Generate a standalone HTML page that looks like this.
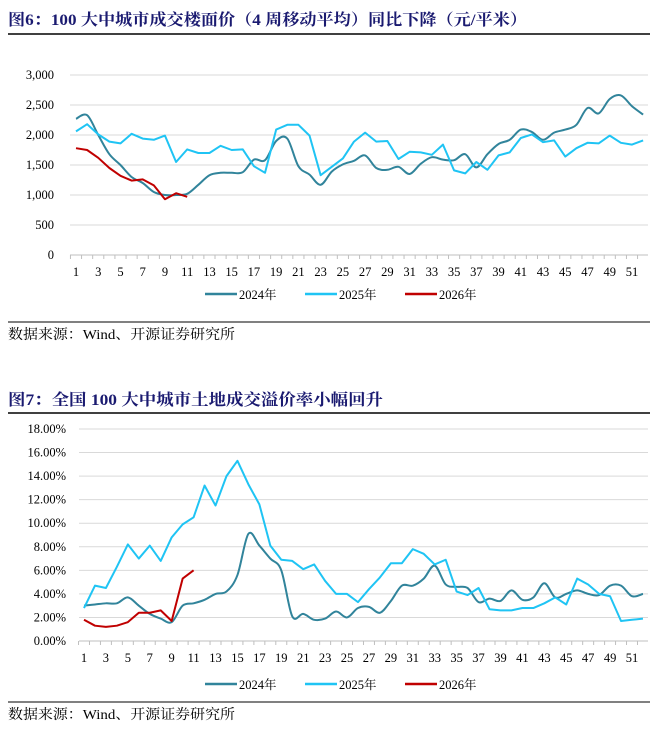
<!DOCTYPE html>
<html><head><meta charset="utf-8"><style>
body{margin:0;background:#fff}
svg{display:block;font-family:"Liberation Serif","Noto Serif CJK SC",serif}
.t{font-weight:bold;fill:#1a1a70;font-size:16px}
.s{font-size:14px;fill:#000}
.ax{font-size:12.5px;fill:#000}
</style></head><body>
<svg id="svg" width="666" height="739" viewBox="0 0 666 739">
<text class="t" x="8" y="25" textLength="519" lengthAdjust="spacingAndGlyphs">图6：100 大中城市成交楼面价（4 周移动平均）同比下降（元/平米）</text>
<line x1="8" y1="34" x2="650" y2="34" stroke="#000" stroke-width="1.5"/>
<g id="c1"></g>
<line x1="8" y1="322" x2="650" y2="322" stroke="#000" stroke-width="1"/>
<text class="s" x="8" y="339" textLength="227" lengthAdjust="spacingAndGlyphs">数据来源：Wind、开源证券研究所</text>
<text class="t" x="8" y="405" textLength="375" lengthAdjust="spacingAndGlyphs">图7：全国 100 大中城市土地成交溢价率小幅回升</text>
<line x1="8" y1="413" x2="650" y2="413" stroke="#000" stroke-width="1.5"/>
<g id="c2"></g>
<line x1="8" y1="702" x2="650" y2="702" stroke="#000" stroke-width="1"/>
<text class="s" x="8" y="719" textLength="227" lengthAdjust="spacingAndGlyphs">数据来源：Wind、开源证券研究所</text>
</svg>
<script>
const weeks = Array.from({length:52},(_,i)=>i+1);
const price2024 = [2270,2330,2000,1680,1500,1300,1200,1050,1000,1000,1020,1170,1330,1370,1370,1380,1590,1580,1900,1940,1480,1340,1170,1390,1510,1570,1660,1450,1420,1470,1350,1520,1630,1590,1580,1680,1460,1680,1850,1920,2090,2050,1920,2040,2090,2170,2450,2360,2600,2660,2480,2340];
const price2025 = [2060,2180,2010,1890,1860,2020,1940,1920,1990,1550,1760,1700,1700,1820,1750,1760,1480,1370,2090,2170,2170,1990,1330,1470,1610,1890,2040,1890,1900,1600,1720,1710,1670,1840,1410,1360,1550,1420,1660,1710,1950,2010,1880,1910,1640,1780,1870,1860,1990,1870,1840,1910];
const price2026 = [1780,1750,1620,1450,1320,1240,1260,1160,930,1030,970];
const priceTicks = [0,500,1000,1500,2000,2500,3000];
const priceTickLabels = ["0","500","1,000","1,500","2,000","2,500","3,000"];
const prem2024 = [3.0,3.1,3.2,3.2,3.7,3.0,2.3,1.9,1.6,3.0,3.2,3.5,4.0,4.2,5.6,9.1,8.1,7.0,6.0,2.1,2.3,1.8,1.9,2.5,2.0,2.8,2.9,2.4,3.4,4.7,4.7,5.3,6.4,4.8,4.6,4.5,3.3,3.6,3.4,4.3,3.5,3.7,4.9,3.7,4.0,4.3,4.0,3.9,4.7,4.7,3.8,4.0];
const prem2025 = [2.8,4.7,4.5,6.3,8.2,7.0,8.1,6.8,8.8,9.9,10.5,13.2,11.5,14.0,15.3,13.3,11.6,8.1,6.9,6.8,6.1,6.5,5.1,4.0,4.0,3.3,4.4,5.4,6.6,6.6,7.8,7.4,6.5,6.9,4.2,3.9,4.5,2.7,2.6,2.6,2.8,2.8,3.2,3.7,3.1,5.3,4.8,4.0,3.8,1.7,1.8,1.9];
const prem2026 = [1.8,1.3,1.2,1.3,1.6,2.4,2.4,2.6,1.7,5.3,6.0];
const premTicks = [0,2,4,6,8,10,12,14,16,18];
const premTickLabels = ["0.00%","2.00%","4.00%","6.00%","8.00%","10.00%","12.00%","14.00%","16.00%","18.00%"];
const seriesNames = ["2024年","2025年","2026年"];
const colors = ["#31849b","#1fc4f4","#c00000"];
const smooth = [true,false,false];
const NS="http://www.w3.org/2000/svg";
function mk(tag,attrs,parent){const e=document.createElementNS(NS,tag);for(const k in attrs)e.setAttribute(k,attrs[k]);parent.appendChild(e);return e;}
function pathD(pts,sm){
  let d='M'+pts[0][0]+','+pts[0][1];
  for(let i=1;i<pts.length;i++){
    if(!sm){d+=' L'+pts[i][0]+','+pts[i][1];continue;}
    const p0=pts[Math.max(i-2,0)],p1=pts[i-1],p2=pts[i],p3=pts[Math.min(i+1,pts.length-1)];
    const c1=[p1[0]+(p2[0]-p0[0])/6,p1[1]+(p2[1]-p0[1])/6],c2=[p2[0]-(p3[0]-p1[0])/6,p2[1]-(p3[1]-p1[1])/6];
    d+=' C'+c1+' '+c2+' '+p2;
  }
  return d;
}
function chart(g,o){
  const x=w=>o.x1+(w-1)*o.dx;
  const y=v=>o.y0-(v-o.vmin)/(o.vmax-o.vmin)*(o.y0-o.yTop);
  o.ticks.forEach((t,i)=>{
    if(i>0){const l=mk('line',{x1:o.left,x2:o.right,y1:y(t),y2:y(t),stroke:'#d9d9d9','stroke-width':1},g);
    
    }
    const tx=mk('text',{x:o.labelX,y:y(t)+4,'text-anchor':'end',class:'ax'},g);tx.textContent=o.tickLabels[i];
    
    
  });
  const a=mk('line',{x1:o.left,x2:o.right,y1:o.y0,y2:o.y0,stroke:'#bfbfbf','stroke-width':1},g);
  
  
  weeks.forEach(w=>{
    const xx=x(w)-o.dx/2;
    const tk=mk('line',{x1:xx,x2:xx,y1:o.y0,y2:o.y0+4,stroke:'#bfbfbf'},g);
    
    
    if(w%2===1){const tx=mk('text',{x:x(w),y:o.y0+21,'text-anchor':'middle',class:'ax'},g);tx.textContent=w;
    
    }
  });
  o.series.forEach((s,i)=>{
    const pts=s.map((v,j)=>[x(j+1),y(v)]);
    const p=mk('path',{d:pathD(pts,smooth[i]),fill:'none',stroke:colors[i],'stroke-width':2,'stroke-linejoin':'round'},g);
    
    
  });
  const lx=[205,305,405];
  seriesNames.forEach((n,i)=>{
    const lg=mk('g',{},g);
    
    
    mk('line',{x1:lx[i],x2:lx[i]+32,y1:o.legY,y2:o.legY,stroke:colors[i],'stroke-width':2.5},lg);
    const t=mk('text',{x:lx[i]+34,y:o.legY+5,class:'ax'},lg);t.textContent=n;
  });
}
chart(document.getElementById('c1'),{x1:76,dx:11.12,left:70,right:648,y0:255,yTop:75,vmin:0,vmax:3000,ticks:priceTicks,tickLabels:priceTickLabels,labelX:54,series:[price2024,price2025,price2026],legY:294});
chart(document.getElementById('c2'),{x1:84,dx:10.96,left:79,right:648,y0:641,yTop:429,vmin:0,vmax:18,ticks:premTicks,tickLabels:premTickLabels,labelX:66,series:[prem2024,prem2025,prem2026],legY:684});
</script>
</body></html>
